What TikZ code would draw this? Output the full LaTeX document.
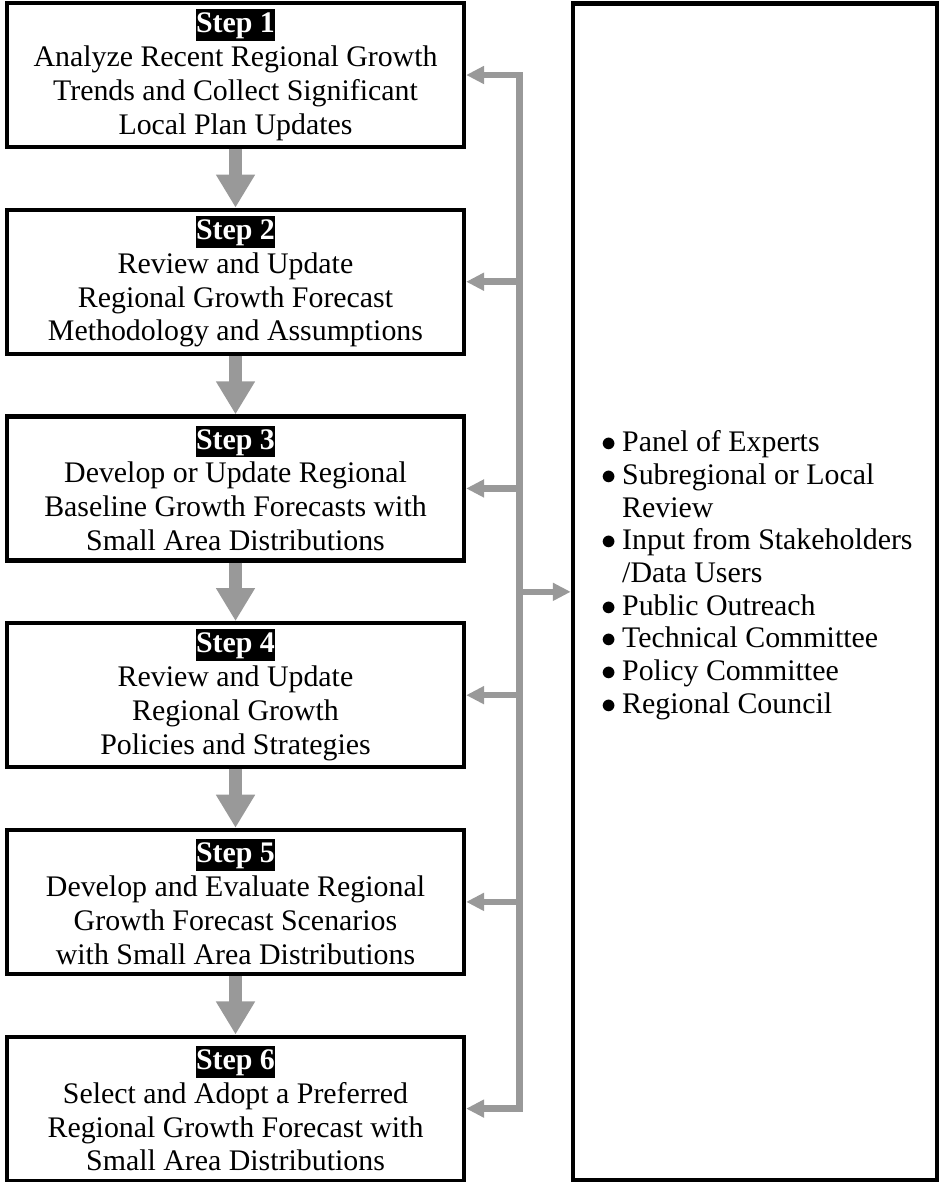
\documentclass[tikz,border=0pt]{standalone}
\usepackage{fontspec}
\setmainfont{Liberation Serif}
\usepackage{tikz}
\usetikzlibrary{arrows.meta,positioning}

\newcommand{\steplabel}[1]{{\setlength{\fboxsep}{0pt}\colorbox{black}{\textcolor{white}{\bfseries\rule[-4.8pt]{0pt}{18pt}#1}}}}
\newcommand{\dotmark}{\makebox[12pt][l]{$\bullet$}}

\begin{document}
\begin{tikzpicture}[font=\fontsize{17}{19.3}\selectfont,
    stepbox/.style={draw,line width=2.4pt,align=center,minimum width=9.14cm,minimum height=2.88cm,inner sep=0pt},
    panelbox/.style={draw,line width=2.6pt,minimum width=7.28cm,minimum height=23.54cm,inner sep=0pt},
    flow/.style={draw=black!40,line width=7.4pt,-{Triangle[width=21pt,length=18.8pt]}},
    feed/.style={draw=black!40,line width=3.7pt,>={Triangle[width=9.7pt,length=10.2pt]}}]
    %\draw[help lines] (0,0) grid (19,-24);
    \useasboundingbox (0,0) rectangle (18.82,-23.64);
    \node (step1) [stepbox,anchor=north west] at (0.098,-0.018) {\steplabel{Step 1}\\ Analyze Recent Regional Growth\\ Trends and Collect Significant\\ Local Plan Updates};
    \node (step2) [stepbox,below=1.17cm of step1.south west,anchor=north west] {\steplabel{Step 2}\\ Review and Update\\ Regional Growth Forecast\\ Methodology and Assumptions};
    \node (step3) [stepbox,below=1.17cm of step2.south west,anchor=north west] {\steplabel{Step 3}\\ Develop or Update Regional\\ Baseline Growth Forecasts with\\ Small Area Distributions};
    \node (step4) [stepbox,below=1.17cm of step3.south west,anchor=north west] {\steplabel{Step 4}\\ Review and Update\\ Regional Growth\\ Policies and Strategies};
    \node (step5) [stepbox,below=1.17cm of step4.south west,anchor=north west] {\steplabel{Step 5}\\ Develop and Evaluate Regional\\ Growth Forecast Scenarios\\ with Small Area Distributions};
    \node (step6) [stepbox,below=1.17cm of step5.south west,anchor=north west] {\steplabel{Step 6}\\ Select and Adopt a Preferred\\ Regional Growth Forecast with\\ Small Area Distributions};
    \node (panel) [panelbox,anchor=north west] at (11.415,-0.021) {};
    \node (members) [anchor=west,inner sep=0pt,font=\fontsize{17}{18.6}\selectfont] at ([xshift=0.6cm,yshift=0.32cm]panel.west) {%
      \begin{tabular}{@{}l@{}l@{}}
        \dotmark & Panel of Experts\\
        \dotmark & Subregional or Local\\
                 & Review\\
        \dotmark & Input from Stakeholders\\
                 & /Data Users\\
        \dotmark & Public Outreach\\
        \dotmark & Technical Committee\\
        \dotmark & Policy Committee\\
        \dotmark & Regional Council
      \end{tabular}};
    \coordinate (bus) at ([xshift=-1.025cm]panel.west);
    \foreach \a/\b in {step1/step2,step2/step3,step3/step4,step4/step5,step5/step6}
      \draw[flow] (\a.south) -- (\b.north);
    \draw[feed,<->] (step1.east) -- (step1.east -| bus) |- (step6.east);
    \foreach \s in {step2,step3,step4,step5}
      \draw[feed,->] (\s.east -| bus) -- (\s.east);
    \draw[feed,->] (bus |- panel.west) -- (panel.west);
\end{tikzpicture}
\end{document}
